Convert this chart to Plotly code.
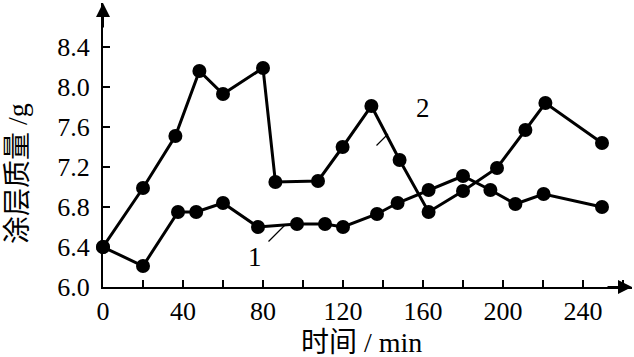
import plotly.graph_objects as go

# Data
t1 = [0, 20, 37.5, 46.6, 60, 77.5, 97, 111, 120, 137, 147.3, 162.8, 180, 193.7, 206.2, 220.3, 249.5]
m1 = [6.40, 6.21, 6.75, 6.75, 6.84, 6.60, 6.63, 6.63, 6.60, 6.73, 6.84, 6.97, 7.11, 6.97, 6.83, 6.93, 6.80]

t2 = [0, 20, 36.2, 48.2, 60, 80, 86.2, 107.5, 119.8, 134.2, 148.3, 162.8, 180, 197, 211.2, 221.2, 249.5]
m2 = [6.40, 6.99, 7.51, 8.16, 7.93, 8.19, 7.05, 7.06, 7.40, 7.81, 7.27, 6.75, 6.96, 7.19, 7.57, 7.84, 7.44]

x_tickvals = [0, 20, 40, 60, 80, 100, 120, 140, 160, 180, 200, 220, 240, 260]
x_ticktext = ["0", "", "40", "", "80", "", "120", "", "160", "", "200", "", "240", ""]
y_tickvals = [6.0, 6.4, 6.8, 7.2, 7.6, 8.0, 8.4]
y_ticktext = ["6.0", "6.4", "6.8", "7.2", "7.6", "8.0", "8.4"]

series_labels = ["1", "2"]
y_title = "涂层质量 /g"
x_title = "时间 / min"

FONT = "Liberation Serif, Noto Sans CJK SC, serif"

W, H = 634, 357
L, R, T, B = 103, 2, 3, 70
px_per_min = 2.0
px_per_g = 100.0
PW, PH = W - L - R, H - T - B
x_max = PW / px_per_min
y_max = 6.0 + PH / px_per_g

fig = go.Figure()
for t, m in [(t1, m1), (t2, m2)]:
    fig.add_trace(go.Scatter(
        x=t, y=m, mode="lines+markers",
        line=dict(color="black", width=3),
        marker=dict(color="black", size=14),
        showlegend=False, cliponaxis=False, hoverinfo="skip",
    ))

fig.update_xaxes(
    range=[0, x_max], tickvals=x_tickvals, ticktext=x_ticktext,
    ticks="inside", ticklen=7, tickwidth=1.5, tickcolor="black",
    showline=True, linecolor="black", linewidth=2,
    showgrid=False, zeroline=False,
    tickfont=dict(family=FONT, size=26, color="black"),
)
fig.update_yaxes(
    range=[6.0, y_max], tickvals=y_tickvals, ticktext=y_ticktext,
    ticks="inside", ticklen=7, tickwidth=1.5, tickcolor="black",
    showline=True, linecolor="black", linewidth=2,
    showgrid=False, zeroline=False,
    tickfont=dict(family=FONT, size=26, color="black"),
    ticklabelstandoff=6,
)

annotations = [
    # axis arrows
    dict(x=1.0, y=0, xref="paper", yref="paper", ax=-26, ay=0, axref="pixel", ayref="pixel",
         showarrow=True, arrowhead=2, arrowsize=1.4, arrowwidth=2, arrowcolor="black", text=""),
    dict(x=0, y=1.0, xref="paper", yref="paper", ax=0, ay=26, axref="pixel", ayref="pixel",
         showarrow=True, arrowhead=2, arrowsize=1.4, arrowwidth=2, arrowcolor="black", text=""),
    # series labels with leader lines
    dict(x=91, y=6.62, xref="x", yref="y", ax=-18, ay=18, text="", showarrow=True,
         arrowhead=0, arrowwidth=1.2, arrowcolor="black"),
    dict(x=76, y=6.30, xref="x", yref="y", text=series_labels[0], showarrow=False,
         xanchor="center", yanchor="middle",
         font=dict(family=FONT, size=27, color="black")),
    dict(x=142.5, y=7.53, xref="x", yref="y", ax=-13, ay=13, text="", showarrow=True,
         arrowhead=0, arrowwidth=1.2, arrowcolor="black"),
    dict(x=160, y=7.79, xref="x", yref="y", text=series_labels[1], showarrow=False,
         xanchor="center", yanchor="middle",
         font=dict(family=FONT, size=27, color="black")),
    # axis titles
    dict(x=-86 / PW, y=(H - B - 174) / PH, xref="paper", yref="paper",
         xanchor="center", yanchor="middle",
         text=y_title, textangle=-90, showarrow=False,
         font=dict(family=FONT, size=28, color="black")),
    dict(x=(361 - L) / PW, y=-(342 - (H - B)) / PH, xref="paper", yref="paper",
         xanchor="center", yanchor="middle",
         text=x_title, showarrow=False,
         font=dict(family=FONT, size=28, color="black")),
]

fig.update_layout(
    width=W, height=H, margin=dict(l=L, r=R, t=T, b=B),
    paper_bgcolor="white", plot_bgcolor="white",
    annotations=annotations,
    font=dict(family=FONT, color="black"),
)

fig.write_html(
    "out.html",
    config={"displayModeBar": False, "staticPlot": True},
    post_script="document.body.style.margin='0';document.body.style.overflow='hidden';",
)
